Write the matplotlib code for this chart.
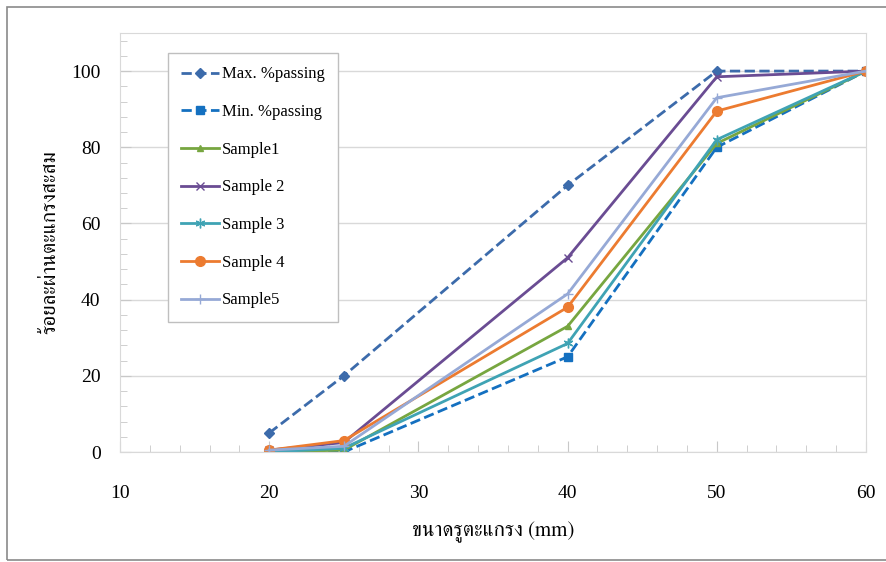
import matplotlib
matplotlib.use("Agg")
import matplotlib.pyplot as plt
from matplotlib import font_manager, ft2font
from matplotlib.patches import Rectangle

sieve = [20, 25, 40, 50, 60]
max_passing = [5, 20, 70, 100, 100]
min_passing = [0, 0, 25, 80, 100]
sample1 = [0, 0.5, 33, 81, 100]
sample2 = [0.5, 2.5, 51, 98.5, 100]
sample3 = [0, 1, 28.5, 82, 100]
sample4 = [0.5, 3, 38, 89.5, 100]
sample5 = [0.5, 1.5, 41.5, 93, 100]

xlabel = "ขนาดรูตะแกรง (mm)"
ylabel = "ร้อยละผ่านตะแกรงสะสม"


def thai_family():
    # look for an installed font that has the Thai glyphs
    need = set(xlabel + ylabel) - set(" (mm)")
    found = []
    for f in font_manager.fontManager.ttflist:
        try:
            cmap = ft2font.FT2Font(f.fname).get_charmap()
        except Exception:
            continue
        if all(ord(c) in cmap for c in need):
            found.append(f.name)
    serif = [n for n in found if "Serif" in n]
    if serif:
        return serif[0]
    return found[0] if found else "DejaVu Sans"


thai = thai_family()
serif = "Liberation Serif"

fig = plt.figure(figsize=(8.87, 5.62), dpi=100)
ax = fig.add_axes([0.1353, 0.1957, 0.841, 0.7456])

# outer frame of the exported picture
fig.patches.append(Rectangle((0.008, 0.004), 1.2, 0.984, transform=fig.transFigure,
                             fill=False, edgecolor="#8a8a8a", linewidth=1.2))

ax.plot(sieve, max_passing, "--", color="#3c6bab", marker="D", markersize=5, lw=2, label="Max. %passing")
ax.plot(sieve, min_passing, "--", color="#1470c0", marker="s", markersize=6, lw=2, label="Min. %passing")
ax.plot(sieve, sample1, "-", color="#77a640", marker="^", markersize=5, lw=2, label="Sample1")
ax.plot(sieve, sample2, "-", color="#6a4c93", marker="x", markersize=6, lw=2, label="Sample 2")
ax.plot(sieve, sample3, "-", color="#3fa3b4", marker=(6, 2, 0), markersize=7, lw=2, label="Sample 3")
ax.plot(sieve, sample4, "-", color="#ec7b30", marker="o", markersize=7, lw=2, label="Sample 4")
ax.plot(sieve, sample5, "-", color="#96a9d6", marker="+", markersize=7, lw=2, label="Sample5")

ax.set_xlim(10, 60)
ax.set_ylim(0, 110)
ax.set_xticks(range(10, 61, 10))
ax.set_xticks(range(10, 61, 2), minor=True)
ax.set_yticks(range(0, 101, 20))
ax.set_yticks(range(0, 109, 4), minor=True)
ax.grid(axis="y", color="#d9d9d9", lw=1)
ax.set_axisbelow(True)
for s in ax.spines.values():
    s.set_color("#d9d9d9")
ax.tick_params(which="both", direction="in", color="#c8c8c8", top=False, right=False)
ax.tick_params(which="major", length=8)
ax.tick_params(which="minor", length=5)
ax.tick_params(axis="x", which="major", pad=24, labelsize=14)
ax.tick_params(axis="y", which="major", pad=14, labelsize=14)
for lab in ax.get_xticklabels() + ax.get_yticklabels():
    lab.set_fontfamily(serif)

ax.set_xlabel(xlabel, family=[thai, serif], fontsize=15, labelpad=14)
ax.set_ylabel(ylabel, family=[thai, serif], fontsize=15, labelpad=8)

leg = ax.legend(loc="upper left", bbox_to_anchor=(0.064, 0.952), borderaxespad=0,
                prop={"family": serif, "size": 12},
                handlelength=2.3, labelspacing=1.3, handletextpad=0.15, borderpad=0.8,
                fancybox=False, edgecolor="#bfbfbf", framealpha=1)
leg.get_frame().set_linewidth(1)

fig.savefig("out.png", dpi=100)
